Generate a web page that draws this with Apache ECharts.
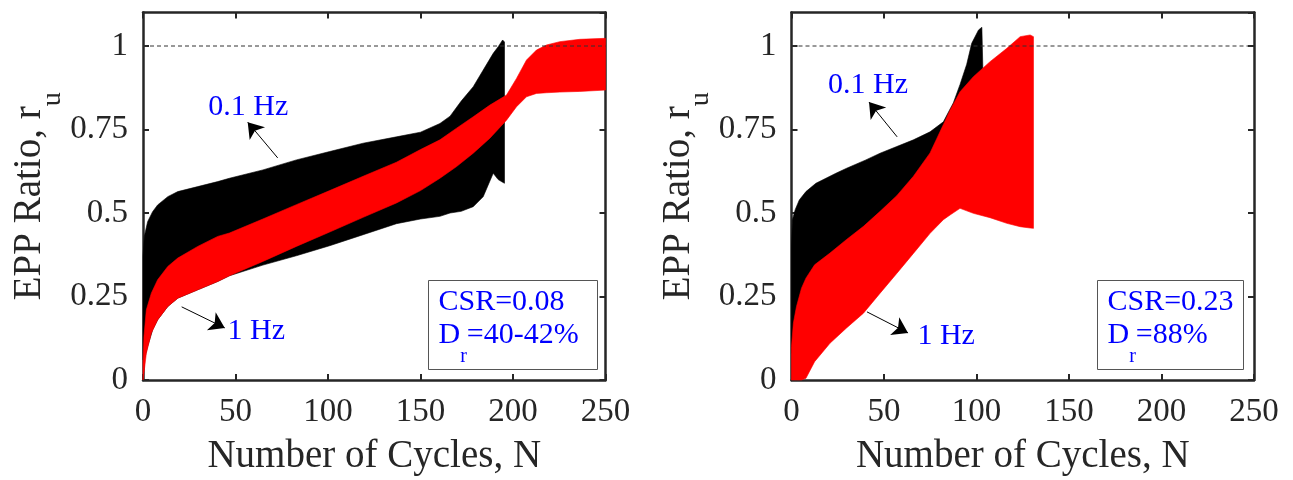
<!DOCTYPE html>
<html>
<head>
<meta charset="utf-8">
<title>EPP ratio vs number of cycles</title>
<script src="https://cdn.jsdelivr.net/npm/echarts@6/dist/echarts.min.js"></script>
<style>
  html, body { margin: 0; padding: 0; background: #fff; }
  #chart { width: 1293px; height: 480px; }
</style>
</head>
<body>
<div id="chart"></div>
<script>
// envelopes of the r_u records (upper / lower bound of the cyclic band)

// left panel: CSR = 0.08, Dr = 40-42%
const leftBlackN =     [0, 0.7, 2.5, 5.2, 7.9, 13.4, 18.8, 29.6, 40.4, 46.7, 64.8, 82.9, 100.9, 119, 137, 150, 160.5, 166, 172, 178.5, 183.9, 189.3, 192, 194.4, 195.4];
const leftBlackUpper = [0.37, 0.43, 0.474, 0.504, 0.524, 0.549, 0.564, 0.579, 0.594, 0.604, 0.629, 0.659, 0.684, 0.709, 0.728, 0.742, 0.768, 0.79, 0.835, 0.878, 0.928, 0.978, 0.998, 1.018, 1.012];
const leftBlackLower = [0.06, 0.06, 0.1, 0.15, 0.18, 0.22, 0.245, 0.27, 0.295, 0.312, 0.344, 0.372, 0.402, 0.435, 0.468, 0.482, 0.49, 0.5, 0.505, 0.519, 0.549, 0.619, 0.6, 0.592, 0.589];

const leftRedN =     [0, 0.5, 1.8, 4.5, 7.9, 13.4, 18.8, 29.6, 40.4, 46.7, 64.8, 82.9, 100.9, 119, 137, 150, 160.5, 169.5, 178.5, 187.5, 196.5, 201.9, 207.3, 212.7, 218.1, 225.3, 236.1, 250];
const leftRedUpper = [0.05, 0.13, 0.21, 0.26, 0.3, 0.34, 0.365, 0.4, 0.43, 0.44, 0.482, 0.525, 0.567, 0.61, 0.652, 0.69, 0.719, 0.754, 0.788, 0.823, 0.853, 0.903, 0.958, 0.988, 1.003, 1.013, 1.02, 1.023];
const leftRedLower = [0, 0.02, 0.08, 0.14, 0.18, 0.22, 0.245, 0.27, 0.295, 0.312, 0.355, 0.4, 0.443, 0.487, 0.53, 0.567, 0.604, 0.639, 0.679, 0.724, 0.778, 0.818, 0.848, 0.858, 0.86, 0.862, 0.864, 0.868];

// right panel: CSR = 0.23, Dr = 88%
const rightBlackN =     [0, 0.5, 2, 4.2, 7.8, 13.2, 24, 29.8, 40.2, 47.9, 56.9, 65.9, 74.9, 82.1, 87.5, 91.1, 94.7, 97.4, 101.1, 102.9, 103.4];
const rightBlackUpper = [0.4, 0.48, 0.51, 0.539, 0.564, 0.589, 0.619, 0.634, 0.659, 0.679, 0.699, 0.719, 0.743, 0.773, 0.83, 0.885, 0.945, 1.008, 1.048, 1.056, 0.94];
const rightBlackLower = [0.08, 0.1, 0.15, 0.2, 0.25, 0.3, 0.33, 0.36, 0.4, 0.44, 0.48, 0.53, 0.6, 0.68, 0.74, 0.78, 0.8, 0.82, 0.84, 0.86, 0.9];

const rightRedN =     [0, 1, 2.7, 5.4, 7.8, 12.5, 20.8, 29.6, 38.9, 47.9, 56.9, 65.9, 74.9, 82.1, 85.7, 91.1, 98.3, 107.3, 116.4, 123.6, 129, 130.8];
const rightRedUpper = [0.1, 0.17, 0.22, 0.275, 0.305, 0.345, 0.38, 0.42, 0.46, 0.505, 0.552, 0.61, 0.68, 0.765, 0.808, 0.863, 0.908, 0.953, 0.993, 1.028, 1.033, 1.028];
const rightRedLower = [0, 0, 0, 0, 0.005, 0.055, 0.11, 0.155, 0.2, 0.26, 0.319, 0.379, 0.439, 0.48, 0.494, 0.514, 0.499, 0.486, 0.469, 0.459, 0.455, 0.454];

// axis ranges and reference level
const cycleMax = 250;
const cycleStep = 50;
const ruMax = 1.1;
const ruStep = 0.25;
const ruLiquefaction = 1;

// annotation texts
const leftBoxLines = ['CSR=0.08', '=40-42%'];
const rightBoxLines = ['CSR=0.23', '=88%'];

const SERIF = '"Liberation Serif", "Times New Roman", serif';
const INK = '#262626';

let myChart = echarts.init(document.getElementById('chart'), null, {renderer: 'canvas'});

function axesFor(grid) {
    const line = {show: true, onZero: false, lineStyle: {color: INK, width: 2.5}};
    const tick = {show: true, inside: true, length: 6, lineStyle: {color: INK, width: 2}};
    const label = {fontFamily: SERIF, fontSize: 33, color: INK};
    return {
        x: [
            {
                gridIndex: grid, type: 'value', position: 'bottom',
                min: 0, max: cycleMax, interval: cycleStep,
                axisLine: line, axisTick: tick, splitLine: {show: false},
                axisLabel: Object.assign({margin: 16}, label),
                name: 'Number of Cycles, N', nameLocation: 'middle', nameGap: 57,
                nameTextStyle: {fontFamily: SERIF, fontSize: 39, color: INK}
            },
            {
                gridIndex: grid, type: 'value', position: 'top',
                min: 0, max: cycleMax, interval: cycleStep,
                axisLine: line, axisTick: tick, splitLine: {show: false},
                axisLabel: {show: false}
            }
        ],
        y: [
            {
                gridIndex: grid, type: 'value', position: 'left',
                min: 0, max: ruMax, interval: ruStep,
                axisLine: line, axisTick: tick, splitLine: {show: false},
                axisLabel: Object.assign({margin: 15, showMaxLabel: false}, label),
                name: '{m|EPP Ratio, r}{s|u}', nameLocation: 'middle', nameGap: 85,
                nameTextStyle: {
                    fontFamily: SERIF, color: INK,
                    rich: {
                        m: {fontFamily: SERIF, fontSize: 39, lineHeight: 40, color: INK, verticalAlign: 'top'},
                        s: {fontFamily: SERIF, fontSize: 28, lineHeight: 28, color: INK, verticalAlign: 'top', padding: [28, 0, 0, 0]}
                    }
                }
            },
            {
                gridIndex: grid, type: 'value', position: 'right',
                min: 0, max: ruMax, interval: ruStep,
                axisLine: line, axisTick: tick, splitLine: {show: false},
                axisLabel: {show: false}
            }
        ]
    };
}

function band(axis, ns, upper, lower, color) {
    return {
        type: 'custom', xAxisIndex: axis, yAxisIndex: axis, silent: true,
        data: [0],
        renderItem: function (params, api) {
            const pts = [];
            ns.forEach(function (n, i) { pts.push(api.coord([n, upper[i]])); });
            for (let i = ns.length - 1; i >= 0; i--) {
                pts.push(api.coord([ns[i], lower[i]]));
            }
            return {
                type: 'polygon',
                shape: {points: pts},
                style: {fill: color, stroke: color, lineWidth: 0.6}
            };
        }
    };
}

function refLine(axis) {
    return {
        type: 'line', xAxisIndex: axis, yAxisIndex: axis, silent: true,
        symbol: 'none',
        data: [[0, ruLiquefaction], [cycleMax, ruLiquefaction]],
        lineStyle: {color: '#333', width: 1, type: [4, 3]}
    };
}

// frequency labels and their arrows, placed in data units
function notes(axis, items, arrows) {
    return {
        type: 'scatter', xAxisIndex: axis, yAxisIndex: axis, silent: true,
        symbolSize: 0,
        itemStyle: {opacity: 1},
        data: items.map(function (it) {
            return {
                value: it.at,
                label: {
                    show: true, position: 'inside', formatter: it.text,
                    fontFamily: SERIF, fontSize: 30, color: '#0000ff',
                    textBorderWidth: 0, textShadowBlur: 0
                }
            };
        }),
        markLine: {
            silent: true, animation: false,
            symbol: ['none', 'arrow'], symbolSize: 15,
            label: {show: false},
            lineStyle: {color: '#000', width: 1, type: 'solid', opacity: 1},
            itemStyle: {opacity: 1},
            data: arrows.map(function (a) { return [{coord: a[0]}, {coord: a[1]}]; })
        }
    };
}

function textBox(left, width, lines) {
    return {
        type: 'group', left: left, top: 280,
        children: [
            {type: 'rect', shape: {x: 0, y: 0, width: width, height: 89},
             style: {fill: '#fff', stroke: '#555', lineWidth: 1}},
            {type: 'text', x: 10, y: 7,
             style: {
                 text: '{m|' + lines[0] + '}\n{m|D}{s|r}{m|' + lines[1] + '}',
                 rich: {
                     m: {fontFamily: SERIF, fontSize: 30, lineHeight: 33, fill: '#0000ff', verticalAlign: 'top'},
                     s: {fontFamily: SERIF, fontSize: 20, lineHeight: 20, fill: '#0000ff', verticalAlign: 'top', padding: [26, 0, 0, 0]}
                 }
             }}
        ]
    };
}

const leftAxes = axesFor(0);
const rightAxes = axesFor(1);

myChart.setOption({
    animation: false,
    grid: [
        {left: 143, top: 12.6, width: 462.5, height: 367.4, outerBoundsMode: 'none'},
        {left: 791.5, top: 12.6, width: 462.5, height: 367.4, outerBoundsMode: 'none'}
    ],
    // bottom/left axes carry labels; top/right only close the box
    xAxis: [leftAxes.x[0], rightAxes.x[0], leftAxes.x[1], rightAxes.x[1]],
    yAxis: [leftAxes.y[0], rightAxes.y[0], leftAxes.y[1], rightAxes.y[1]],
    series: [
        refLine(0),
        refLine(1),
        band(0, leftBlackN, leftBlackUpper, leftBlackLower, '#000000'),
        band(0, leftRedN, leftRedUpper, leftRedLower, '#ff0000'),
        band(1, rightBlackN, rightBlackUpper, rightBlackLower, '#000000'),
        band(1, rightRedN, rightRedUpper, rightRedLower, '#ff0000'),
        notes(0,
            [{text: '0.1 Hz', at: [56.9, 0.818]}, {text: '1 Hz', at: [61.2, 0.145]}],
            [[[72.8, 0.665], [56.6, 0.772]], [[20.9, 0.219], [44.2, 0.156]]]),
        notes(1,
            [{text: '0.1 Hz', at: [41.4, 0.883]}, {text: '1 Hz', at: [83.6, 0.132]}],
            [[[57.1, 0.728], [41.9, 0.832]], [[40.8, 0.204], [63, 0.141]]])
    ],
    graphic: [
        textBox(428, 169, leftBoxLines),
        textBox(1097, 146, rightBoxLines)
    ]
});
</script>
</body>
</html>
